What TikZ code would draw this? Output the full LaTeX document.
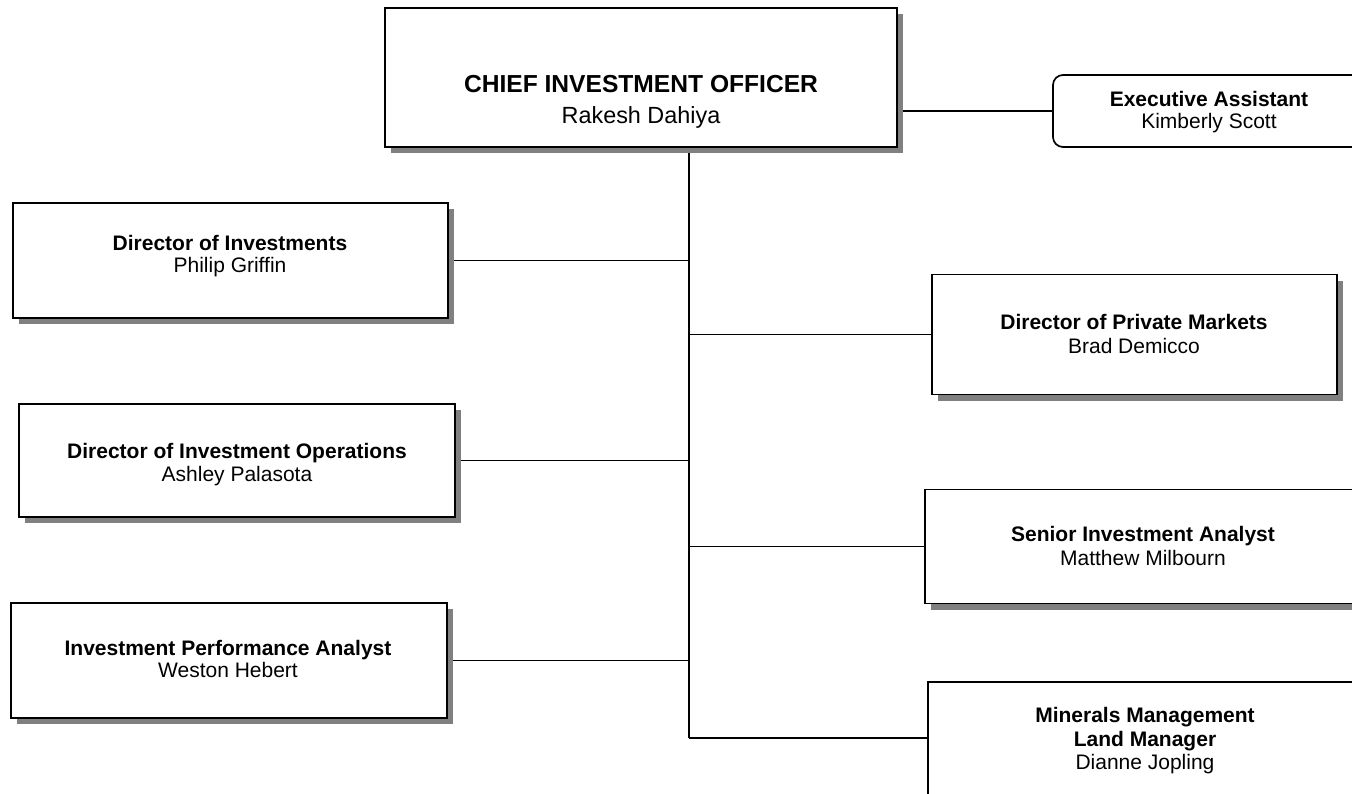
\documentclass[tikz,border=0pt]{standalone}
\usepackage{fontspec}
\setmainfont{Liberation Sans}
\usetikzlibrary{shadows,backgrounds}
\begin{document}
\begin{tikzpicture}[x=1pt,y=-1pt,
  box/.style={draw=black, line width=1.7pt, fill=white, inner sep=0pt, outer sep=0pt,
    drop shadow={shadow xshift=6pt, shadow yshift=-6pt, fill=black!50, opacity=1}},
  rbox/.style={draw=black, line width=1.7pt, fill=white, inner sep=0pt, outer sep=0pt, rounded corners=10pt},
  conn/.style={draw=black, line width=1.7pt},
  ttl/.style={anchor=base, inner sep=0pt, font=\fontsize{21}{23}\selectfont\bfseries},
  nm/.style={anchor=base, inner sep=0pt, font=\fontsize{21}{23}\selectfont},
  bigttl/.style={anchor=base, inner sep=0pt, font=\fontsize{24.6}{28}\selectfont\bfseries},
  bignm/.style={anchor=base, inner sep=0pt, font=\fontsize{23.4}{28}\selectfont}]
\clip (0,0) rectangle (1352,793);

% trunk coordinate
\coordinate (tk) at (689,738);

% boxes
\node[box, minimum width=512pt, minimum height=139pt] (cio) at (641,77.5) {};
\node[rbox, minimum width=317pt, minimum height=72pt] (exec) at (1211.5,111) {};
\node[box, minimum width=435pt, minimum height=115pt] (dinv) at (230.5,260.5) {};
\node[box, minimum width=436pt, minimum height=113pt] (dops) at (237,460.5) {};
\node[box, minimum width=436pt, minimum height=115pt] (perf) at (229,660.5) {};
\node[box, minimum width=405pt, minimum height=120pt] (priv) at (1134.5,334.5) {};
\node[box, minimum width=437pt, minimum height=114pt] (sen) at (1143.5,546.5) {};
\node[box, minimum width=434pt, minimum height=118pt] (minr) at (1145,741) {};

% connectors
\begin{scope}[on background layer]
\fill[white] (0,0) rectangle (1352,793);
\draw[conn] (cio.south -| tk) -- (tk);
\draw[conn] (cio.east |- exec.west) -- (exec.west);
\draw[conn] (dinv.east) -- (dinv.east -| tk);
\draw[conn] (dops.east) -- (dops.east -| tk);
\draw[conn] (perf.east) -- (perf.east -| tk);
\draw[conn] (priv.west -| tk) -- (priv.west);
\draw[conn] (sen.west -| tk) -- (sen.west);
\draw[conn] (tk) -- (tk -| minr.west);
\end{scope}

% texts
\node[bigttl] (cio-t) at (641,92) {CHIEF INVESTMENT OFFICER};
\node[bignm] (cio-n) at (641,123) {Rakesh Dahiya};
\node[ttl] (exec-t) at (1209,106.5) {Executive Assistant};
\node[nm] (exec-n) at (1209,128.5) {Kimberly Scott};
\node[ttl] (dinv-t) at (230,250) {Director of Investments};
\node[nm] (dinv-n) at (230,272) {Philip Griffin};
\node[ttl] (dops-t) at (237,458) {Director of Investment Operations};
\node[nm] (dops-n) at (237,481) {Ashley Palasota};
\node[ttl] (perf-t) at (228,655) {Investment Performance Analyst};
\node[nm] (perf-n) at (228,677) {Weston Hebert};
\node[ttl] (priv-t) at (1134,329) {Director of Private Markets};
\node[nm] (priv-n) at (1134,353) {Brad Demicco};
\node[ttl] (sen-t) at (1143,541) {Senior Investment Analyst};
\node[nm] (sen-n) at (1143,565) {Matthew Milbourn};
\node[ttl] (min-t1) at (1145,722) {Minerals Management};
\node[ttl] (min-t2) at (1145,746) {Land Manager};
\node[nm] (min-n) at (1145,769) {Dianne Jopling};
\end{tikzpicture}
\end{document}
